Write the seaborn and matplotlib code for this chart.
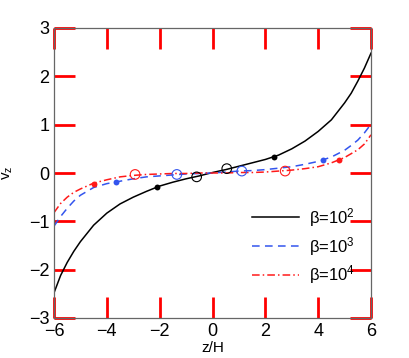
import numpy as np
import pandas as pd
import seaborn as sns
import matplotlib.pyplot as plt

# 曲线数据
z_grid = [-6, -5.75, -5.5, -5.25, -5, -4.5, -4, -3.5, -3, -2.5, -2, -1.5, -1, -0.5, 0,
          0.5, 1, 1.5, 2, 2.5, 3, 3.5, 4, 4.5, 5, 5.25, 5.5, 5.75, 6]
v_b2 = [-2.48, -2.12, -1.85, -1.62, -1.42, -1.08, -0.83, -0.64, -0.50, -0.38, -0.27, -0.19, -0.12,
        -0.06, 0.01, 0.07, 0.14, 0.21, 0.28, 0.37, 0.50, 0.66, 0.86, 1.10, 1.45, 1.65, 1.90, 2.17, 2.48]
v_b3 = [-1.10, -0.90, -0.73, -0.58, -0.46, -0.30, -0.22, -0.17, -0.12, -0.08, -0.06, -0.04, -0.02,
        -0.01, 0.0, 0.02, 0.04, 0.05, 0.07, 0.10, 0.13, 0.18, 0.24, 0.33, 0.47, 0.57, 0.68, 0.83, 1.01]
v_b4 = [-0.82, -0.63, -0.50, -0.40, -0.33, -0.21, -0.14, -0.08, -0.05, -0.03, -0.02, -0.01, -0.01,
        0.0, 0.0, 0.0, 0.01, 0.01, 0.02, 0.04, 0.06, 0.09, 0.13, 0.21, 0.32, 0.40, 0.48, 0.60, 0.79]

# 实心点 / 空心圈位置
fill_z = {'b2': [-2.1, 2.33], 'b3': [-3.65, 4.2], 'b4': [-4.47, 4.77]}
fill_v = {'b2': [-0.28, 0.33], 'b3': [-0.19, 0.26], 'b4': [-0.22, 0.26]}
open_z = {'b2': [-0.6, 0.54], 'b3': [-1.35, 1.11], 'b4': [-2.93, 2.75]}
open_v = {'b2': [-0.08, 0.09], 'b3': [-0.03, 0.04], 'b4': [-0.03, 0.04]}

labels = {'b2': r'β=10$^{\mathregular{2}}$', 'b3': r'β=10$^{\mathregular{3}}$', 'b4': r'β=10$^{\mathregular{4}}$'}
colors = {'b2': 'black', 'b3': '#3355ee', 'b4': '#ff1a1a'}
dashes = {'b2': '-', 'b3': (0, (5, 3.5)), 'b4': (0, (5, 2, 1, 2))}

plt.rcParams['font.family'] = ['Liberation Sans', 'DejaVu Sans']
plt.rcParams['mathtext.default'] = 'regular'

df = pd.DataFrame({'z': z_grid, 'b2': v_b2, 'b3': v_b3, 'b4': v_b4})

fig, ax = plt.subplots(figsize=(4.09, 3.58), dpi=100)
fig.subplots_adjust(left=54 / 409, right=371 / 409, bottom=40 / 358, top=330 / 358)

for k in ['b2', 'b3', 'b4']:
    sns.lineplot(data=df, x='z', y=k, ax=ax, color=colors[k], linestyle=dashes[k],
                 linewidth=1.1, label=labels[k])
    sns.scatterplot(x=fill_z[k], y=fill_v[k], ax=ax, color=colors[k], s=18,
                    edgecolor=colors[k], linewidth=0, zorder=5)
    ax.scatter(open_z[k], open_v[k], s=48, facecolors='none', edgecolors=colors[k],
               linewidths=0.8, zorder=5)

ax.set_xlim(-6, 6)
ax.set_ylim(-3, 3)
ax.set_xticks(np.arange(-6, 7, 2))
ax.set_yticks(np.arange(-3, 4, 1))
ax.tick_params(direction='in', top=True, right=True, length=15, width=2,
               color='red', labelcolor='black', labelsize=13)
for sp in ax.spines.values():
    sp.set_color('#666666')
    sp.set_linewidth(0.9)

ax.set_xlabel('z/H', fontsize=11, labelpad=1)
ax.set_ylabel(r'v$_{\mathregular{z}}$', fontsize=11, labelpad=10)

leg = ax.legend(loc='center left', frameon=False, fontsize=12, handlelength=2.8,
                handletextpad=0.6, labelspacing=0.35, borderpad=0, borderaxespad=0,
                bbox_to_anchor=(0.625, 0.248))

fig.savefig('out.png', dpi=100)
